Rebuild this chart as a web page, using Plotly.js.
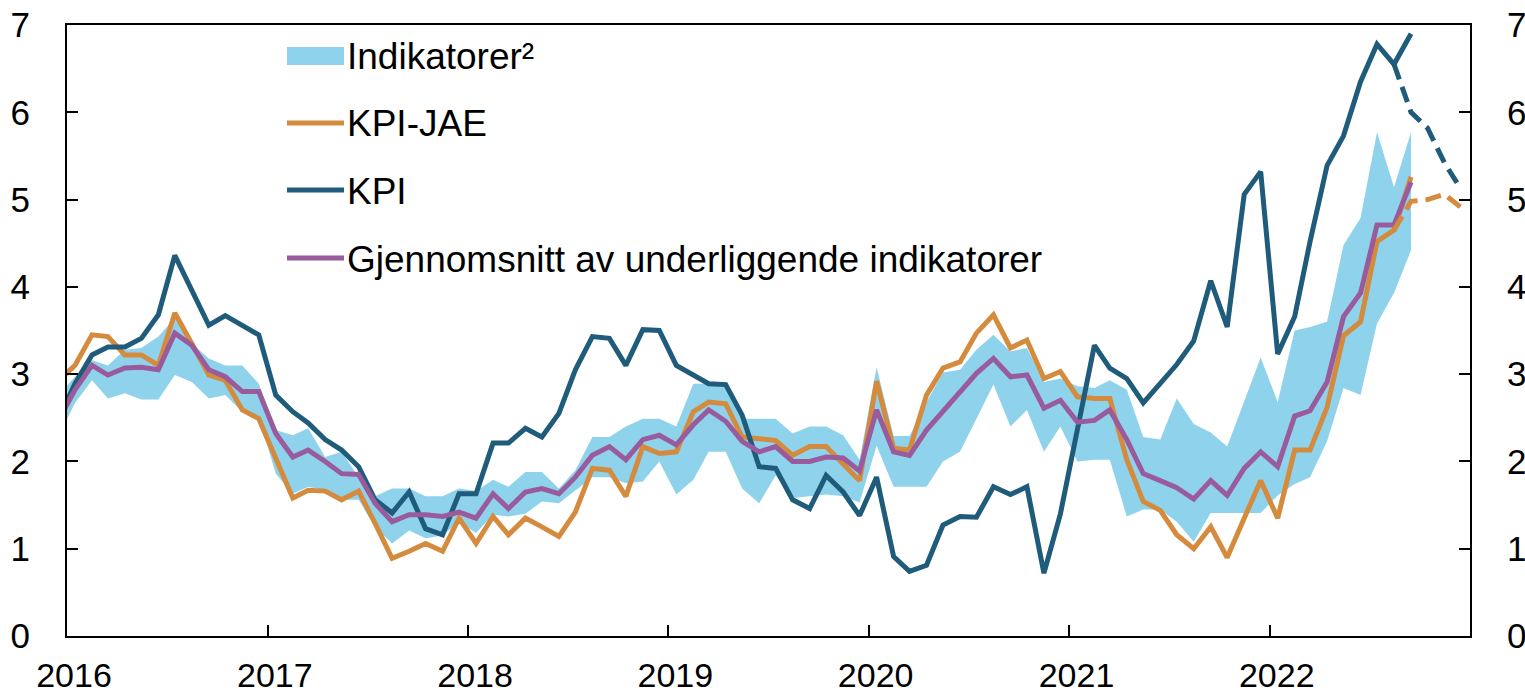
<!DOCTYPE html>
<html>
<head>
<meta charset="utf-8">
<script src="https://cdn.plot.ly/plotly-3.0.1.min.js"></script>
<style>html,body{margin:0;padding:0;background:#fff;}#chart{width:1525px;height:697px;}</style>
</head>
<body>
<div id="chart"></div>
<script>
// ---- Data (monthly, Dec 2015 .. Sep 2022) ----
const firstMonth = [2015, 12];
const seriesNames = ['Indikatorer²', 'KPI-JAE', 'KPI', 'Gjennomsnitt av underliggende indikatorer'];
const yearTickLabels = ['2016', '2017', '2018', '2019', '2020', '2021', '2022'];

const kpi = [2.47,
  2.89,3.22,3.31,3.31,3.41,3.68,4.36,3.96,3.56,3.67,3.56,3.45,
  2.76,2.57,2.44,2.25,2.13,1.94,1.56,1.41,1.65,1.23,1.16,1.63,
  1.63,2.21,2.21,2.38,2.28,2.55,3.05,3.43,3.41,3.10,3.51,3.50,
  3.10,2.99,2.89,2.88,2.53,1.94,1.92,1.56,1.46,1.84,1.65,1.38,
  1.82,0.91,0.74,0.81,1.27,1.37,1.36,1.71,1.62,1.71,0.72,1.40,
  2.40,3.33,3.07,2.95,2.67,2.90,3.11,3.38,4.07,3.54,5.06,5.32,
  3.23,3.66,4.52,5.39,5.73,6.35,6.78,6.55,6.90];

const kpiJae = [2.92,
  3.10,3.45,3.43,3.22,3.22,3.10,3.70,3.35,2.99,2.93,2.59,2.49,
  2.05,1.58,1.67,1.66,1.56,1.66,1.29,0.89,0.97,1.06,0.97,1.35,
  1.06,1.37,1.16,1.35,1.25,1.14,1.42,1.92,1.90,1.60,2.17,2.09,
  2.11,2.57,2.68,2.66,2.28,2.26,2.24,2.07,2.17,2.17,1.98,1.78,
  2.92,2.15,2.13,2.76,3.07,3.14,3.47,3.68,3.30,3.39,2.95,3.03,
  2.74,2.72,2.72,2.02,1.54,1.44,1.16,1.00,1.25,0.90,1.35,1.78,
  1.35,2.13,2.13,2.62,3.44,3.60,4.52,4.65,5.26];

const snitt = [2.46,
  2.82,3.10,2.99,3.07,3.08,3.05,3.47,3.33,3.05,2.97,2.80,2.80,
  2.32,2.05,2.13,2.00,1.86,1.85,1.52,1.31,1.39,1.39,1.37,1.42,
  1.35,1.63,1.46,1.65,1.69,1.63,1.82,2.07,2.17,2.02,2.25,2.30,
  2.19,2.42,2.59,2.46,2.23,2.11,2.17,2.00,2.00,2.05,2.04,1.89,
  2.59,2.11,2.07,2.36,2.57,2.78,3.01,3.18,2.97,2.99,2.61,2.70,
  2.45,2.47,2.59,2.25,1.86,1.78,1.70,1.57,1.78,1.61,1.92,2.11,
  1.94,2.52,2.58,2.91,3.66,3.93,4.71,4.71,5.20];

const indMax = [2.75,
  2.97,3.16,3.10,3.28,3.30,3.43,3.64,3.35,3.18,3.10,3.10,2.89,
  2.36,2.30,2.38,2.05,2.11,1.82,1.60,1.69,1.69,1.60,1.60,1.69,
  1.66,1.79,1.71,1.88,1.88,1.69,1.90,2.28,2.28,2.40,2.49,2.49,
  2.40,2.89,2.89,2.89,2.49,2.49,2.49,2.32,2.40,2.40,2.30,2.02,
  3.08,2.29,2.29,2.68,3.02,3.05,3.28,3.45,3.26,3.30,2.91,2.95,
  2.86,2.84,2.93,2.82,2.28,2.25,2.72,2.43,2.33,2.17,2.70,3.19,
  2.68,3.50,3.54,3.60,4.48,4.79,5.77,5.14,5.77];

const indMin = [2.27,
  2.67,2.93,2.72,2.78,2.71,2.71,2.99,2.91,2.72,2.76,2.57,2.51,
  1.86,1.63,1.71,1.67,1.56,1.56,1.25,1.06,1.21,1.12,1.15,1.31,
  1.18,1.39,1.37,1.40,1.54,1.52,1.67,1.82,1.82,1.75,1.77,2.00,
  1.62,1.79,2.11,2.11,1.69,1.52,1.84,1.58,1.60,1.62,1.60,1.53,
  2.18,1.71,1.71,1.71,2.00,2.11,2.49,2.88,2.40,2.59,2.11,2.40,
  2.00,2.02,2.02,1.37,1.45,1.45,1.31,1.08,1.41,1.41,1.41,1.41,
  1.61,1.74,1.82,2.23,2.84,2.76,3.58,3.93,4.42];

// Projections (Aug 2022 .. Dec 2022)
const projMonths = ['2022-08', '2022-09', '2022-10', '2022-11', '2022-12'];
const kpiProj = [6.55, 6.00, 5.82, 5.42, 5.12];
const kpiJaeProj = [4.65, 4.98, 5.00, 5.06, 4.91];

// ---- Build month dates (mid-month) ----
function monthList(start, n) {
  const out = [];
  let y = start[0], m = start[1];
  for (let k = 0; k < n; k++) {
    out.push(y + '-' + String(m).padStart(2, '0'));
    m++; if (m > 12) { m = 1; y++; }
  }
  return out;
}
const mid = s => s + '-15 12:00';
const months = monthList(firstMonth, kpi.length).map(mid);
const projX = projMonths.map(mid);
const yearTicks = yearTickLabels.map(y => y + '-01-01');

const C = {
  band: '#8fd2ec',
  jae: '#d58b3d',
  kpi: '#1f5b7a',
  snitt: '#9a5b9c'
};
const LW = 5;

const traces = [
  {x: months, y: indMin, type: 'scatter', mode: 'lines', line: {width: 0, color: C.band}, hoverinfo: 'skip', showlegend: false},
  {x: months, y: indMax, type: 'scatter', mode: 'lines', fill: 'tonexty', fillcolor: C.band, line: {width: 0, color: C.band}, name: seriesNames[0], showlegend: false},
  {x: months, y: kpiJae, type: 'scatter', mode: 'lines', line: {width: LW, color: C.jae}, name: seriesNames[1], showlegend: false},
  {x: months, y: kpi, type: 'scatter', mode: 'lines', line: {width: LW, color: C.kpi}, name: seriesNames[2], showlegend: false},
  {x: months, y: snitt, type: 'scatter', mode: 'lines', line: {width: LW, color: C.snitt}, name: seriesNames[3], showlegend: false},
  {x: projX, y: kpiJaeProj, type: 'scatter', mode: 'lines', yaxis: 'y2', line: {width: LW, color: C.jae, dash: '16px,8px'}, showlegend: false},
  {x: projX, y: kpiProj, type: 'scatter', mode: 'lines', yaxis: 'y2', line: {width: LW, color: C.kpi, dash: '16px,8px'}, showlegend: false}
];

// ---- Layout ----
const W = 1525, H = 697;
const L = 67, R = 1470, T = 25, B = 636;
const px = x => (x - L) / (R - L);
const py = y => (B - y) / (B - T);
const FONT = '"Liberation Sans", Arial, sans-serif';
const FS = 35;

const legendItems = [
  {kind: 'box', color: C.band, y: 56},
  {kind: 'line', color: C.jae, y: 123},
  {kind: 'line', color: C.kpi, y: 190},
  {kind: 'line', color: C.snitt, y: 258}
];
const shapes = [], annotations = [];
legendItems.forEach((it, k) => {
  if (it.kind === 'box') {
    shapes.push({type: 'rect', xref: 'paper', yref: 'paper', x0: px(287), x1: px(344), y0: py(it.y + 9), y1: py(it.y - 9), fillcolor: it.color, line: {width: 0}});
  } else {
    shapes.push({type: 'line', xref: 'paper', yref: 'paper', x0: px(287), x1: px(344), y0: py(it.y), y1: py(it.y), line: {color: it.color, width: 5}});
  }
  annotations.push({xref: 'paper', yref: 'paper', x: px(345), y: py(it.y + 1), xanchor: 'left', yanchor: 'middle', text: seriesNames[k], showarrow: false, font: {family: FONT, size: 37, color: '#000'}});
});

const yCommon = {
  range: [0, 7], dtick: 1, tick0: 0, ticks: 'inside', ticklen: 11, tickwidth: 2, tickcolor: '#000',
  showline: true, linewidth: 2, linecolor: '#000', showgrid: false, zeroline: false,
  tickfont: {family: FONT, size: FS, color: '#000'}, ticklabelstandoff: 28, fixedrange: true
};

const layout = {
  width: W, height: H,
  margin: {l: L, r: W - R, t: T, b: H - B, pad: 0},
  paper_bgcolor: '#fff', plot_bgcolor: '#fff',
  font: {family: FONT, size: FS, color: '#000'},
  showlegend: false,
  xaxis: {
    type: 'date', range: ['2016-01-01', '2023-01-01'],
    tickmode: 'array', tickvals: yearTicks, ticktext: yearTickLabels,
    ticks: 'inside', ticklen: 11, tickwidth: 2, tickcolor: '#000',
    showline: true, linewidth: 2, linecolor: '#000', mirror: true,
    showgrid: false, zeroline: false,
    tickfont: {family: FONT, size: 34, color: '#000'}, ticklabelstandoff: 8, ticklabelshift: 7
  },
  yaxis: Object.assign({}, yCommon, {side: 'left'}),
  yaxis2: Object.assign({}, yCommon, {side: 'right', overlaying: 'y'}),
  shapes: shapes,
  annotations: annotations
};

Plotly.newPlot('chart', traces, layout, {displayModeBar: false, staticPlot: true});
</script>
</body>
</html>
